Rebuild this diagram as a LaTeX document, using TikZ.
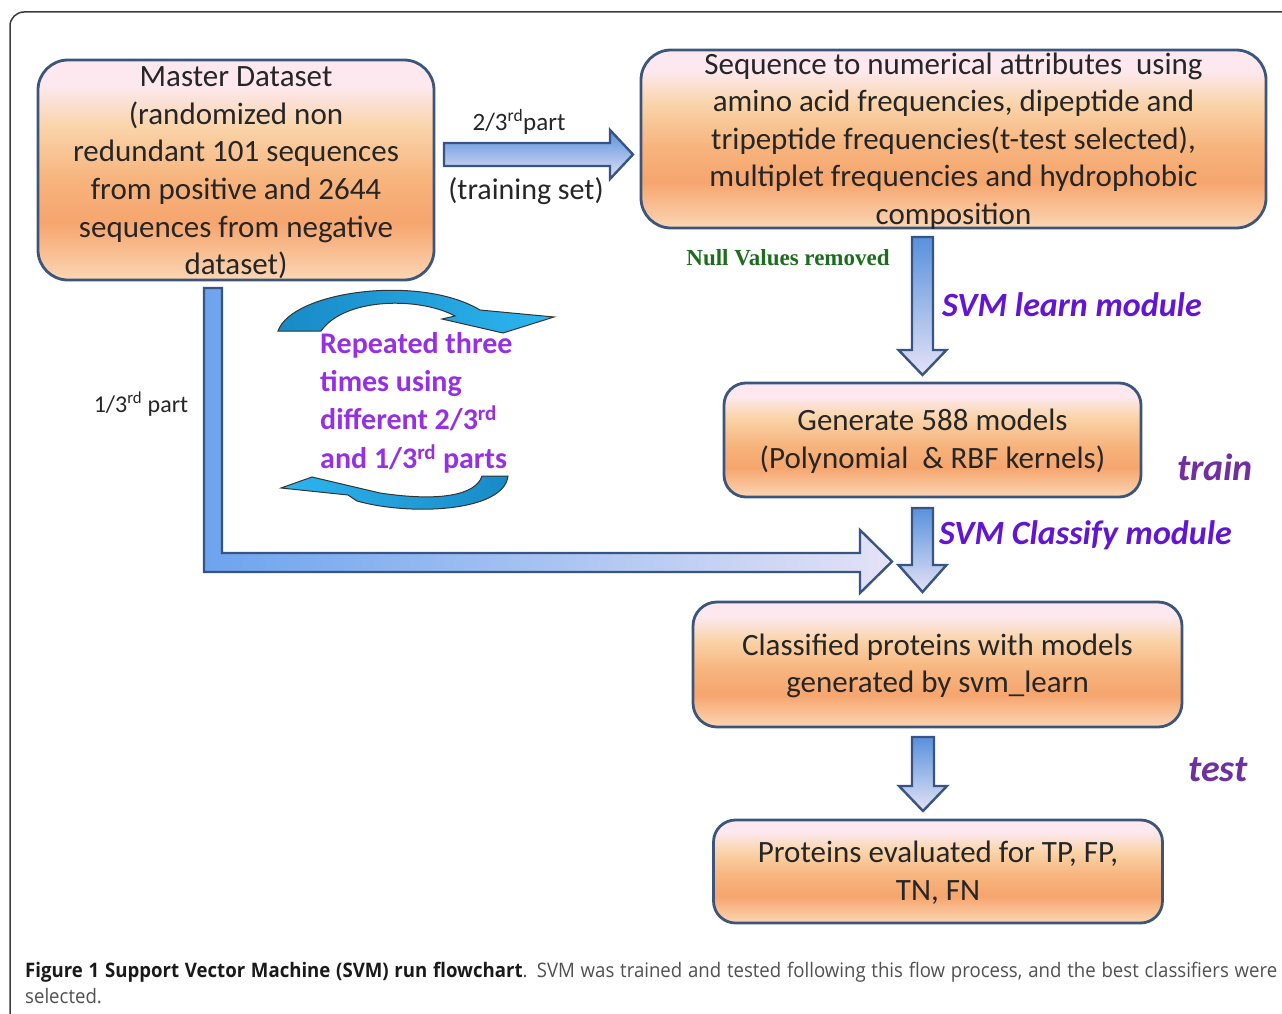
\documentclass[tikz,border=0pt]{standalone}
\usepackage{fontspec}
\setmainfont{Carlito}
\newfontfamily\capfamily{Open Sans}[FakeStretch=0.93]
\newfontfamily\nullfamily{Liberation Serif}
\usetikzlibrary{calc}
\definecolor{boxedge}{RGB}{60,85,122}
\definecolor{ob}{RGB}{251,214,180}
\definecolor{om}{RGB}{246,165,110}
\definecolor{om2}{RGB}{247,180,125}
\definecolor{ol}{RGB}{250,212,170}
\definecolor{ot}{RGB}{252,232,238}
\definecolor{arrblue}{RGB}{88,145,220}
\definecolor{arrlight}{RGB}{228,226,246}
\definecolor{arrvert}{RGB}{108,164,238}
\definecolor{arredge}{RGB}{56,84,130}
\definecolor{cyandark}{RGB}{24,138,198}
\definecolor{cyanlight}{RGB}{44,182,240}
\definecolor{svmviolet}{RGB}{98,22,212}
\definecolor{phasepurple}{RGB}{112,48,160}
\definecolor{repviolet}{RGB}{150,48,228}
\definecolor{nullgreen}{RGB}{28,110,30}
\definecolor{framec}{RGB}{60,60,60}
\definecolor{captext}{RGB}{80,80,80}
\pgfdeclareverticalshading{boxsh}{100bp}{color(0bp)=(ob); color(25bp)=(ob); color(38bp)=(om); color(48bp)=(om2); color(60bp)=(ol); color(69bp)=(ot); color(100bp)=(ot)}
\newcommand\blkdn[6]{\draw[blk,top color=arrblue,bottom color=arrlight] (#1-#4,#2) -- (#1+#4,#2) -- (#1+#4,#3-#6) -- (#1+#5,#3-#6) -- (#1,#3) -- (#1-#5,#3-#6) -- (#1-#4,#3-#6) -- cycle;}
\tikzset{
  box/.style={draw=boxedge, line width=2.8pt, rounded corners=26pt, shading=boxsh, inner sep=0pt},
  btxt/.style={align=center, inner sep=0pt, font=\fontsize{31}{37.6}\selectfont, text=black!85},
  blk/.style={draw=arredge, line width=2.4pt, line join=miter},
  curv/.style={draw=black!80, line width=1pt, left color=cyandark, right color=cyanlight},
  svmlab/.style={font=\fontsize{34}{40}\selectfont\bfseries\itshape, text=svmviolet, inner sep=0pt},
  phaselab/.style={font=\fontsize{38}{44}\selectfont\bfseries\itshape, text=phasepurple, inner sep=0pt},
}
\begin{document}
\begin{tikzpicture}[x=1pt,y=-1pt]
\useasboundingbox (0,0) rectangle (1282,1014);
\clip (0,0) rectangle (1282,1014);
\fill[white] (0,0) rectangle (1282,1014);
% outer frame
\draw[framec, line width=1.5pt, rounded corners=14pt] (10,1040) -- (10,12) -- (1300,12);

% boxes
\node[box, minimum width=396pt, minimum height=220pt, rounded corners=30pt] (master) at (236,170) {};
\node[box, minimum width=625pt, minimum height=178pt, rounded corners=30pt] (seq) at (953.5,139) {};
\node[box, minimum width=417pt, minimum height=114pt, rounded corners=22pt] (gen) at (932.5,440) {};
\node[box, minimum width=489pt, minimum height=125pt, rounded corners=24pt] (cls) at (937.5,664.5) {};
\node[box, minimum width=449pt, minimum height=103pt, rounded corners=22pt] (prot) at (938,871.5) {};

\node[btxt] (mastertxt) at ($(master.center)+(0,3)$) {Master Dataset\\(randomized non\\redundant 101 sequences\\from positive and 2644\\sequences from negative\\dataset)};
\node[btxt] (seqtxt) at ($(seq.center)+(0,2)$) {Sequence to numerical attributes \ using\\amino acid frequencies, dipeptide and\\tripeptide frequencies(t-test selected),\\multiplet frequencies and hydrophobic\\composition};
\node[btxt] (gentxt) at ($(gen.center)+(0,1.5)$) {Generate 588 models\\(Polynomial \ \& RBF kernels)};
\node[btxt] (clstxt) at ($(cls.center)+(0,1.5)$) {Classified proteins with models\\generated by svm\_learn};
\node[btxt] (prottxt) at ($(prot.center)+(0,1.5)$) {Proteins evaluated for TP, FP,\\TN, FN};

% block arrow master -> seq
\draw[blk, top color=arrblue, bottom color=arrlight] (444,143) -- (610,143) -- (610,130) -- (633,154.5) -- (610,179) -- (610,166) -- (444,166) -- cycle;
% down arrows
\blkdn{922.5}{237}{375}{10.5}{24}{25}
\blkdn{922.5}{508}{592}{10.5}{24}{27}
\blkdn{923}{737}{811}{11}{24}{25}
% L-shaped arrow master -> cls
\draw[blk, left color=arrvert, right color=arrlight] (204,288) -- (222,288) -- (222,553) -- (860,553) -- (860,530) -- (892,561.5) -- (860,593) -- (860,572) -- (204,572) -- cycle;

% curved arrows
\draw[curv] (278,331) .. controls (292,291) and (420,274) .. (480,310) -- (554,317) -- (503,333) -- (442,319) -- (455,316) .. controls (420,297) and (345,297) .. (321,331) -- cycle;
\draw[curv, left color=cyanlight, right color=cyandark] (508,476) .. controls (504,512) and (410,516) .. (357,501) -- (348,495) -- (281,488) -- (312,477) -- (380,493) .. controls (440,502) and (476,495) .. (482,476) -- cycle;

% labels
\node[font=\fontsize{25}{30}\selectfont, text=black!85, inner sep=0pt] (l23) at (519,122) {2/3\textsuperscript{rd}part};
\node[font=\fontsize{30}{36}\selectfont, text=black!85, inner sep=0pt] (ltrain) at (526,191) {(training set)};
\node[font=\fontsize{24}{28}\selectfont, text=black!85, inner sep=0pt] (l13) at (141,404) {1/3\textsuperscript{rd} part};
\node[font=\fontsize{23}{26}\selectfont\nullfamily\bfseries, text=nullgreen, inner sep=0pt] (null) at (788,258) {Null Values removed};
\node[svmlab, anchor=west] (svml) at (942,305) {SVM learn module};
\node[svmlab, anchor=west] (svmc) at (939,535) {SVM Classify module};
\node[phaselab] (train) at (1215,467) {train};
\node[phaselab] (test) at (1218,770) {test};
\node[align=left, anchor=west, inner sep=0pt, font=\fontsize{30}{38.3}\selectfont\bfseries, text=repviolet] (rep) at (320,402.5) {Repeated three\\times using\\different 2/3\textsuperscript{rd}\\and 1/3\textsuperscript{rd} parts};

% caption
\node[anchor=north west, inner sep=0pt, text width=1252pt, align=justify, font=\fontsize{20}{26}\selectfont\capfamily, text=captext] (cap) at (25,962) {{\color{black!90}\bfseries Figure 1 Support Vector Machine (SVM) run flowchart}. SVM was trained and tested following this flow process, and the best classifiers were selected.};
\end{tikzpicture}
\end{document}
